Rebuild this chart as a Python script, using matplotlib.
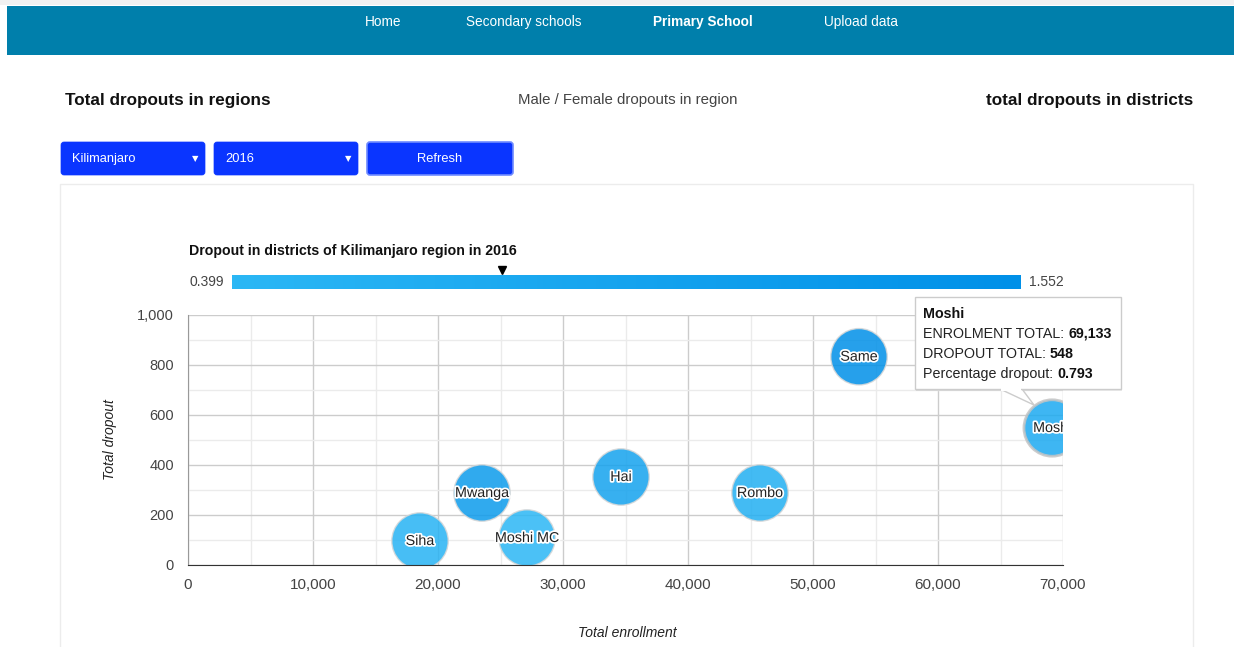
import numpy as np
import matplotlib
matplotlib.use("Agg")
import matplotlib.pyplot as plt
import matplotlib.patheffects as pe
from matplotlib.patches import Rectangle, FancyBboxPatch, Polygon
from matplotlib.colors import LinearSegmentedColormap
from matplotlib.ticker import MultipleLocator, FuncFormatter

plt.rcParams['font.family'] = ['Liberation Sans', 'DejaVu Sans']

# data
districts = ["Siha", "Mwanga", "Moshi MC", "Hai", "Rombo", "Same", "Moshi"]
enrolment = [18560, 23520, 27120, 34640, 45760, 53680, 69133]
dropout = [96, 288, 108, 352, 288, 833, 548]
pct_dropout = [0.517, 1.224, 0.399, 1.016, 0.629, 1.552, 0.793]
hovered = "Moshi"

nav_items = ["Home", "Secondary schools", "Primary School", "Upload data"]
nav_x = [383, 524, 703, 861]
region = "Kilimanjaro"
year = "2016"

W, H = 1234, 647
fig = plt.figure(figsize=(W / 100, H / 100), dpi=100)
fig.patch.set_facecolor("white")

# background overlay in pixel coords (y down)
bg = fig.add_axes([0, 0, 1, 1], zorder=0)
bg.set_xlim(0, W)
bg.set_ylim(H, 0)
bg.axis("off")

# header bar
bg.add_patch(Rectangle((0, 0), W, 5, color="#f1f1f1", lw=0))
bg.add_patch(Rectangle((7, 6), W - 7, 49, color="#007fab", lw=0))
for name, x in zip(nav_items, nav_x):
    bold = name == "Primary School"
    bg.text(x, 22, name, color="white", fontsize=9.8, ha="center", va="center",
            fontweight="bold" if bold else "normal")

# section headings
bg.text(65, 101, "Total dropouts in regions", fontsize=12.3, fontweight="bold",
        color="#111", va="center")
bg.text(628, 100, "Male / Female dropouts in region", fontsize=10.8,
        color="#444", ha="center", va="center")
bg.text(1193, 101, "total dropouts in districts", fontsize=12.3, fontweight="bold",
        color="#111", ha="right", va="center")

# dropdowns / button
for x0, label in [(61, region), (214, year)]:
    bg.add_patch(FancyBboxPatch((x0, 142), 144, 33, boxstyle="round,pad=0,rounding_size=3",
                                fc="#0a35ff", ec="#0a35ff", lw=0.5))
    bg.text(x0 + 11, 159, label, color="white", fontsize=9.3, va="center")
    bg.text(x0 + 134, 159, "\u25bc", color="white", fontsize=6, ha="center", va="center",
            family="DejaVu Sans")
bg.add_patch(FancyBboxPatch((367, 142), 146, 33, boxstyle="round,pad=0,rounding_size=3",
                            fc="#0a35ff", ec="#6f8bff", lw=1.2))
bg.text(440, 159, "Refresh", color="white", fontsize=9.3, ha="center", va="center")

# chart container
bg.add_patch(Rectangle((60, 184), 1133, 480, fc="white", ec="#ececec", lw=1))

# chart title
bg.text(189, 251, f"Dropout in districts of {region} region in {year}", fontsize=10.2,
        fontweight="bold", color="#111", va="center")

# color axis
vmin, vmax = min(pct_dropout), max(pct_dropout)
cmap = LinearSegmentedColormap.from_list("drop", ["#2bb7f5", "#0090e8"])
grad = np.linspace(0, 1, 256).reshape(1, -1)
bg.imshow(grad, cmap=cmap, extent=(232, 1021, 289, 275), aspect="auto", zorder=1)
bg.text(224, 282, f"{vmin:.3f}", fontsize=10, color="#444", ha="right", va="center")
bg.text(1029, 282, f"{vmax:.3f}", fontsize=10, color="#444", ha="left", va="center")
hi = districts.index(hovered)
mx = 232 + (pct_dropout[hi] - vmin) / (vmax - vmin) * (1021 - 232)
bg.plot([mx], [270], marker="v", color="black", ms=6, zorder=2)

# axis titles
bg.text(110, 440, "Total dropout", rotation=90, fontsize=10, style="italic",
        color="#222", ha="center", va="center")
bg.text(627, 633, "Total enrollment", fontsize=10, style="italic", color="#222",
        ha="center", va="center")

# bubble chart
x0p, x1p, y0p, y1p = 188, 1063, 315, 565
ax = fig.add_axes([x0p / W, (H - y1p) / H, (x1p - x0p) / W, (y1p - y0p) / H], zorder=1)
ax.set_facecolor("none")
ax.set_xlim(0, 70000)
ax.set_ylim(0, 1000)
ax.xaxis.set_major_locator(MultipleLocator(10000))
ax.xaxis.set_minor_locator(MultipleLocator(5000))
ax.yaxis.set_major_locator(MultipleLocator(200))
ax.yaxis.set_minor_locator(MultipleLocator(100))
ax.grid(True, which="major", color="#cccccc", lw=1)
ax.grid(True, which="minor", color="#ebebeb", lw=1)
ax.set_axisbelow(True)
fmt = FuncFormatter(lambda v, p: f"{int(v):,}")
ax.xaxis.set_major_formatter(fmt)
ax.yaxis.set_major_formatter(fmt)
ax.tick_params(which="both", length=0, labelcolor="#444")
ax.tick_params(axis="x", pad=9.5, labelsize=11)
ax.tick_params(axis="y", pad=10, labelsize=10.5)
for s in ["top", "right"]:
    ax.spines[s].set_visible(False)
ax.spines["left"].set_color("#999999")
ax.spines["bottom"].set_color("#333333")
ax.spines["bottom"].set_zorder(5)

colors = cmap((np.array(pct_dropout) - vmin) / (vmax - vmin))
edges = ["#c4c4c4" if d == hovered else "#d8d8d8" for d in districts]
lws = [2.0 if d == hovered else 1 for d in districts]
ax.scatter(enrolment, dropout, s=1650, c=colors, alpha=0.85, edgecolors=edges,
           linewidths=lws, zorder=3)
for name, x, y in zip(districts, enrolment, dropout):
    ax.text(x, y, name, fontsize=10.3, color="#222", ha="center", va="center", zorder=4,
            clip_on=True,
            path_effects=[pe.withStroke(linewidth=2.5, foreground="white")])

# tooltip overlay
top = fig.add_axes([0, 0, 1, 1], zorder=3)
top.set_xlim(0, W)
top.set_ylim(H, 0)
top.axis("off")
top.set_facecolor("none")
tx0, ty0, tw, th = 915, 297, 206, 92
top.add_patch(Rectangle((tx0 + 1, ty0 + 2), tw, th, fc="#000000", alpha=0.08, lw=0))
top.add_patch(Polygon([(1000, ty0 + th), (1022, ty0 + th), (1034, 405)], closed=True,
                      fc="white", ec="#cccccc", lw=1))
top.add_patch(Rectangle((tx0, ty0), tw, th, fc="white", ec="#cccccc", lw=1))
top.add_patch(Rectangle((1001, ty0 + th - 1.5), 20, 3, fc="white", lw=0))

fig.canvas.draw()
renderer = fig.canvas.get_renderer()
top.text(923, 314, hovered, fontsize=10.3, fontweight="bold", color="#111", va="center")
rows = [("ENROLMENT TOTAL: ", f"{enrolment[hi]:,}"),
        ("DROPOUT TOTAL: ", f"{dropout[hi]:,}"),
        ("Percentage dropout: ", f"{pct_dropout[hi]:.3f}")]
for i, (lab, val) in enumerate(rows):
    yy = 334 + 20 * i
    t = top.text(923, yy, lab, fontsize=10.3, color="#222", va="center")
    bb = t.get_window_extent(renderer=renderer)
    top.text(bb.x1, yy, val, fontsize=10.3, fontweight="bold", color="#111", va="center")

fig.savefig("out.png", dpi=100)
